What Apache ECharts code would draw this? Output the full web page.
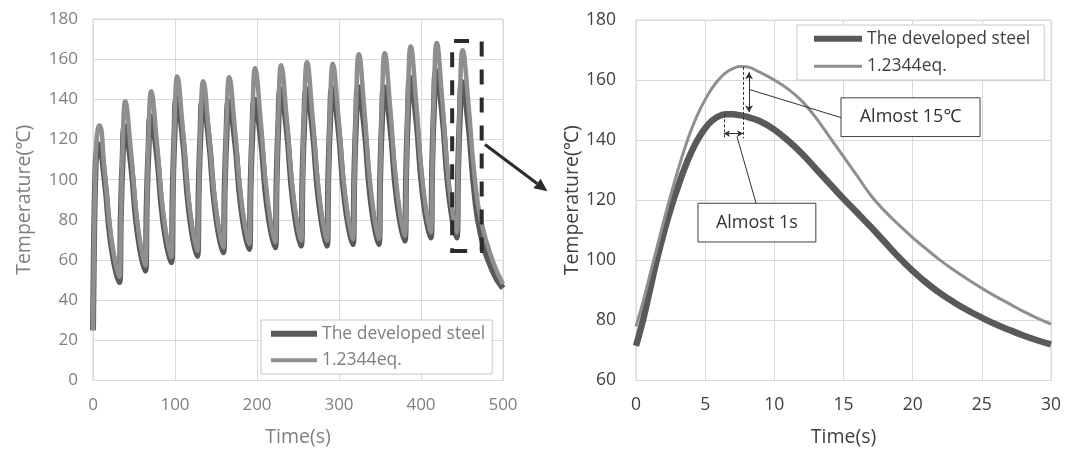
<!DOCTYPE html>
<html><head><meta charset="utf-8">
<script src="https://cdn.jsdelivr.net/npm/echarts@6/dist/echarts.min.js"></script>
<style>html,body{margin:0;padding:0;background:#fff}#c{width:1065px;height:452px}</style>
</head><body><div id="c"></div>
<script>
// ---------- data ----------
const seriesNames = ['The developed steel', '1.2344eq.'];
const leftXTicks = [0, 100, 200, 300, 400, 500];
const leftYTicks = [0, 20, 40, 60, 80, 100, 120, 140, 160, 180];
const rightXTicks = [0, 5, 10, 15, 20, 25, 30];
const rightYTicks = [60, 80, 100, 120, 140, 160, 180];
const axisTitles = ['Time(s)', 'Temperature(℃)'];
const annotationLabels = ['Almost 15℃', 'Almost 1s'];

// left chart: [time s, temperature °C]
const leftDark = [
 [0,25],[1,62],[2,88],[3,104],[4,112],[7,117.5],[14,100.7],[22,68.2],
 [32,49],[34,83.1],[36,108.8],[38.7,126.6],[46,109],[54,74.8],
 [63.6,54.7],[65.6,88.5],[67.6,113.9],[70.3,131.6],[77.6,113.8],[85.6,79.3],
 [95.3,58.9],[97.3,94.9],[99.3,121.9],[102,140.7],[109.3,121.4],[117.3,84],
 [127,62],[129,96.2],[131,121.9],[133.7,139.8],[141,121.2],[149,85.1],
 [158.7,63.8],[160.7,96.9],[162.7,121.7],[165.4,139],[172.7,121],[180.7,86.1],
 [190.3,65.5],[192.3,98.2],[194.3,122.7],[197,139.8],[204.3,121.8],[212.3,86.9],
 [222,66.3],[224,100.9],[226,126.9],[228.7,145],[236,125.9],[244,88.9],
 [253.5,67.1],[255.5,101.4],[257.5,127.1],[260.2,145],[267.5,125.9],[275.5,88.9],
 [285,67.1],[287,101.6],[289,127.5],[291.7,145.6],[299,126.6],[307,89.7],
 [316.7,67.9],[318.7,102.3],[320.7,128],[323.4,146],[330.7,126.9],[338.7,89.8],
 [348.3,67.9],[350.3,102.3],[352.3,128],[355,146],[362.3,127.3],[370.3,91],
 [380,69.6],[382,105.2],[384,132],[386.7,150.6],[394,131.1],[402,93.4],
 [411.7,71.2],[413.7,107.6],[415.7,135],[418.4,154],[425.7,133.7],[433.7,94.4],
 [443.3,71.2],[445.3,105.2],[447.3,130.7],[450,148.5],[457.3,129.6],[465.3,93.3],[473.3,72.2],[488,54],[500,46]
];
const leftLight = [
 [0,25],[1,60],[2,88],[3,107],[4,118],[6,125.5],[8,127],[14,105.1],[22,71.9],
 [32,51.5],[34,79.5],[36,113.6],[39.5,139],[46,115.3],[54,79.3],
 [63.6,57.2],[65.6,85],[67.6,118.8],[71.1,144],[77.6,120],[85.6,83.7],
 [95.3,61.4],[97.3,90.2],[99.3,125.3],[102.8,151.4],[109.3,126.2],[117.3,88],
 [127,64.5],[129,91.5],[131,124.5],[134.5,149],[141,125],[149,88.6],
 [158.7,66.3],[160.7,93.4],[162.7,126.4],[166.2,151],[172.7,126.9],[180.7,90.4],
 [190.3,68],[192.3,96],[194.3,130.1],[197.8,155.5],[204.3,130.4],[212.3,92.2],
 [222,68.8],[224,97],[226,131.4],[229.5,157],[236,131.7],[244,93.2],
 [253.5,69.6],[255.5,98],[257.5,132.7],[261,158.5],[267.5,132.7],[275.5,93.6],
 [285,69.6],[287,97.8],[289,132.2],[292.5,157.7],[299,132.4],[307,94],
 [316.7,70.4],[318.7,99.9],[320.7,135.8],[324.2,162.5],[330.7,135.8],[338.7,95.3],
 [348.3,70.4],[350.3,100],[352.3,136.1],[355.8,163],[362.3,136.6],[370.3,96.6],
 [380,72.1],[382,102.2],[384,139],[387.5,166.3],[394,139.4],[402,98.7],
 [411.7,73.7],[413.7,103.9],[415.7,140.7],[419.2,168],[425.7,140.7],[433.7,99.2],
 [443.3,73.7],[445.3,102.8],[447.3,138.2],[450.8,164.5],[457.5,139.5],[465.5,101],[473.5,79],[488,59],[500,48]
];

// right chart (zoom of last cycle)
const rightTime = [0,0.5,1,1.5,2,2.5,3,3.5,4,4.5,5,5.5,6,6.5,7,7.5,8,9,10,11,12,13,14,15,16,17,18,19,20,21,22,23,24,25,26,27,28,29,30];
const rightDark = [71.5,80,90,100,109,117,124,130.5,136,140.5,144,146.5,148,148.6,148.6,148.3,147.8,146.2,143.5,139.8,135.5,130.5,125.5,120.5,115.8,111,106,101,96.5,92.5,89,86,83.3,80.9,78.7,76.8,75,73.4,72];
const rightLight = [78,86,95,104,113,121.5,129.5,137,143.5,149,153.5,157.3,160.3,162.5,163.8,164.5,164.4,162.5,160,157,153,147.5,141,134.5,128,121.5,116.3,111.8,107.6,103.7,100,96.7,93.6,90.7,88,85.5,83,80.8,78.8];

// ---------- styles ----------
const FONT = '"Open Sans","Noto Sans","Noto Sans CJK JP",sans-serif';
const leftText = '#7f7f7f';
const rightText = '#3f3f3f';
const gridColor = '#d9d9d9';
const darkColor = '#595959';
const lightColor = '#8f8f8f';
const annColor = '#333333';

function xAxisCfg(gi, ticks, txt, size) {
  return {
    gridIndex: gi, type: 'value', min: ticks[0], max: ticks[ticks.length-1], interval: ticks[1]-ticks[0],
    name: axisTitles[0], nameLocation: 'middle', nameGap: 47,
    nameTextStyle: {color: txt, fontSize: 19.5, fontFamily: FONT},
    axisLine: {lineStyle: {color: gridColor}}, axisTick: {show: false},
    axisLabel: {color: txt, fontSize: size, margin: 16, fontFamily: FONT},
    splitLine: {show: true, lineStyle: {color: gridColor, width: 1}}
  };
}
function yAxisCfg(gi, ticks, txt, size, gap, lmargin) {
  return {
    gridIndex: gi, type: 'value', min: ticks[0], max: ticks[ticks.length-1], interval: ticks[1]-ticks[0],
    name: axisTitles[1], nameLocation: 'middle', nameGap: gap,
    nameTextStyle: {color: txt, fontSize: 19.5, fontFamily: FONT},
    axisLine: {show: false}, axisTick: {show: false},
    axisLabel: {color: txt, fontSize: size, margin: lmargin, fontFamily: FONT},
    splitLine: {show: true, lineStyle: {color: gridColor, width: 1}}
  };
}

const chart = echarts.init(document.getElementById('c'), null, {renderer: 'canvas'});
const option = {
  animation: false,
  backgroundColor: '#fff',
  grid: [
    {left: 93, right: 562, top: 19, bottom: 70, show: true, borderColor: gridColor, borderWidth: 1},
    {left: 636, right: 14, top: 20, bottom: 70, show: true, borderColor: gridColor, borderWidth: 1}
  ],
  xAxis: [xAxisCfg(0, leftXTicks, leftText, 17), xAxisCfg(1, rightXTicks, rightText, 17.5)],
  yAxis: [yAxisCfg(0, leftYTicks, leftText, 17, 59, 15), yAxisCfg(1, rightYTicks, rightText, 17.5, 51, 20)],
  legend: [
    {
      left: 261, top: 320, orient: 'vertical', itemWidth: 46, itemHeight: 14, itemGap: 9,
      padding: [5, 7, 5, 7], borderColor: '#c8c8c8', borderWidth: 1, backgroundColor: '#fff',
      selectedMode: false, textStyle: {color: leftText, fontSize: 17.5, fontFamily: FONT},
      itemStyle: {opacity: 0},
      data: [
        {name: seriesNames[0], lineStyle: {width: 6, color: darkColor}},
        {name: seriesNames[1], lineStyle: {width: 4, color: lightColor}}
      ]
    },
    {
      left: 797, top: 25, orient: 'vertical', itemWidth: 48, itemHeight: 14, itemGap: 10,
      padding: [5, 14, 5, 14], borderColor: '#c8c8c8', borderWidth: 1, backgroundColor: '#fff',
      selectedMode: false, textStyle: {color: rightText, fontSize: 17.5, fontFamily: FONT},
      itemStyle: {opacity: 0},
      data: [
        {name: seriesNames[0], lineStyle: {width: 6, color: darkColor}},
        {name: seriesNames[1], lineStyle: {width: 3, color: lightColor}}
      ]
    }
  ],
  series: [
    {
      name: seriesNames[0], type: 'line', xAxisIndex: 0, yAxisIndex: 0, data: leftDark,
      symbol: 'none', smooth: 0.5, lineStyle: {color: darkColor, width: 6}, itemStyle: {color: darkColor}, z: 2
    },
    {
      name: seriesNames[1], type: 'line', xAxisIndex: 0, yAxisIndex: 0, data: leftLight,
      symbol: 'none', smooth: 0.5, lineStyle: {color: lightColor, width: 4.5}, itemStyle: {color: lightColor}, z: 3,
      markArea: {
        silent: true, z: 6,
        itemStyle: {color: 'rgba(0,0,0,0)', borderColor: '#2b2b2b', borderWidth: 4, borderType: [15, 13]},
        data: [[{coord: [438, 64.5]}, {coord: [474, 169]}]]
      }
    },
    {
      name: seriesNames[0], type: 'line', xAxisIndex: 1, yAxisIndex: 1,
      data: rightTime.map((t, i) => [t, rightDark[i]]),
      symbol: 'none', smooth: 0.4, lineStyle: {color: darkColor, width: 6.5}, itemStyle: {color: darkColor}, z: 2
    },
    {
      name: seriesNames[1], type: 'line', xAxisIndex: 1, yAxisIndex: 1,
      data: rightTime.map((t, i) => [t, rightLight[i]]),
      symbol: 'none', smooth: 0.4, lineStyle: {color: lightColor, width: 3}, itemStyle: {color: lightColor}, z: 3,
      markArea: {
        silent: true, z: 6,
        itemStyle: {color: '#fff', borderColor: '#404040', borderWidth: 1},
        label: {show: true, position: 'inside', color: annColor, fontSize: 18, fontFamily: FONT},
        data: [
          [{name: annotationLabels[0], coord: [14.82, 154.1]}, {coord: [24.87, 141.2]}],
          [{name: annotationLabels[1], coord: [4.48, 119]}, {coord: [13, 106.1]}]
        ]
      },
      markLine: {
        silent: true, z: 6, symbol: ['none', 'none'], label: {show: false},
        lineStyle: {color: annColor, width: 1, type: 'solid'},
        emphasis: {disabled: true},
        data: [
          [{coord: [7.74, 164.4], lineStyle: {type: [3, 2], color: annColor, width: 1}}, {coord: [7.74, 140.6]}],
          [{coord: [6.36, 148.6], lineStyle: {type: [3, 2], color: annColor, width: 1}}, {coord: [6.36, 140.6]}],
          [{coord: [6.36, 142.2], symbol: 'arrow', symbolSize: [5, 6]}, {coord: [7.74, 142.2], symbol: 'arrow', symbolSize: [5, 6]}],
          [{coord: [8.17, 162.6], symbol: 'arrow', symbolSize: [6, 7]}, {coord: [8.17, 149.3], symbol: 'arrow', symbolSize: [6, 7]}],
          [{coord: [8.24, 156.8]}, {coord: [14.82, 147.5]}],
          [{coord: [7.3, 141.2]}, {coord: [8.68, 119]}]
        ]
      }
    }
  ]
};
chart.setOption(option);

// connector arrow from the dashed box (left chart) to the right chart
const p0 = chart.convertToPixel({gridIndex: 0}, [478, 117.5]);
const p1 = chart.convertToPixel({gridIndex: 1}, [-6.4, 123]);
const dx = p1[0] - p0[0], dy = p1[1] - p0[1];
const len = Math.sqrt(dx * dx + dy * dy);
const ux = dx / len, uy = dy / len, nx = -uy, ny = ux;
const headL = 13, headW = 6;
const bx = p1[0] - ux * headL, by = p1[1] - uy * headL;
chart.setOption({
  graphic: [
    {type: 'line', z: 10, shape: {x1: p0[0], y1: p0[1], x2: bx, y2: by}, style: {stroke: '#2b2b2b', lineWidth: 3}},
    {type: 'polygon', z: 10, shape: {points: [[p1[0], p1[1]], [bx + nx * headW, by + ny * headW], [bx - nx * headW, by - ny * headW]]}, style: {fill: '#2b2b2b'}}
  ]
});
</script>
</body></html>
